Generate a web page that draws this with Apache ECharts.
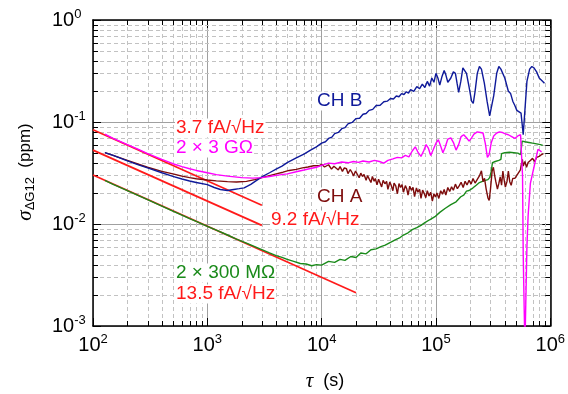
<!DOCTYPE html>
<html>
<head>
<meta charset="utf-8">
<script src="https://cdn.jsdelivr.net/npm/echarts@6/dist/echarts.min.js"></script>
<style>html,body{margin:0;padding:0;background:#fff}#c{width:568px;height:394px}</style>
</head>
<body>
<div id="c"></div>
<script>
// ---- tick labels ----
const xTickExp = ['2', '3', '4', '5', '6'];
const yTickExp = ['-3', '-2', '-1', '0'];

// ---- fit lines (white-noise slopes) ----
const fitHighTau = [100, 3000];
const fitHighSig = [0.084, 0.0153];
const fitMidTau = [100, 3000];
const fitMidSig = [0.053, 0.0097];
const fitLowTau = [100, 20000];
const fitLowSig = [0.0302, 0.00212];

// ---- 2 x 3 GOhm (magenta) ----
const tauM = [127,150,200,250,300,400,500,600,700,800,1000,1200,1500,2000,2500,3000,3500,4000,5000,6000,7000,8000,9000,10000,11500,13000,15000,17000,19000,21000,23000,26000,29000,32000,35000,38000,42000,46000,50000,54000,58000,62000,66000,70000,74000,78000,82000,86000,90000,95000,100000,105000,110000,115000,120000,127000,135000,143000,150000,158000,166000,175000,185000,195000,205000,215000,230000,245000,258000,270000,282000,292000,305000,320000,340000,360000,380000,400000,430000,460000,490000,520000,550000,565000,572000,580000,600000,612000,625000,640000,670000,720000,780000,840000];
const sigM = [0.076,0.069,0.060,0.054,0.049,0.043,0.039,0.0365,0.0348,0.0335,0.0318,0.0305,0.0295,0.0285,0.0282,0.0285,0.0292,0.030,0.031,0.0325,0.0338,0.035,0.036,0.0375,0.0395,0.039,0.0405,0.0398,0.041,0.0402,0.0415,0.0405,0.042,0.041,0.0395,0.042,0.0435,0.045,0.0445,0.047,0.0455,0.052,0.057,0.050,0.046,0.052,0.060,0.055,0.047,0.054,0.062,0.067,0.058,0.050,0.056,0.068,0.070,0.062,0.053,0.060,0.072,0.075,0.070,0.065,0.070,0.076,0.080,0.079,0.078,0.062,0.045,0.048,0.063,0.073,0.078,0.080,0.079,0.077,0.075,0.072,0.069,0.073,0.075,0.072,0.03,0.005,0.0006,0.0006,0.006,0.012,0.025,0.036,0.054,0.051];

// ---- CH B (navy) ----
const tauB = [127,150,200,250,300,400,500,600,700,800,1000,1150,1300,1500,1700,1900,2100,2400,2700,3000,3500,4000,4500,5000,6000,7000,8000,9000,10000,10800,11500,12300,13000,14000,15000,16000,17000,18500,20000,21500,23000,24500,26000,28000,30000,32500,35000,37500,40000,42500,45000,47500,50000,52500,55000,57500,60000,64000,68000,72000,76000,80000,84000,88000,92000,96000,100000,104000,108000,113000,118000,122000,127000,135000,142000,148000,153000,158000,165000,172000,178000,185000,195000,205000,212000,220000,230000,240000,250000,265000,280000,295000,305000,320000,340000,355000,370000,400000,430000,450000,470000,490000,510000,530000,555000,570000,580000,600000,625000,660000,690000,720000,760000,800000,860000,890000];
const sigB = [0.050,0.047,0.0415,0.038,0.0355,0.0318,0.0293,0.0276,0.0264,0.0255,0.0243,0.0228,0.0218,0.0213,0.0218,0.0222,0.0226,0.0245,0.0268,0.029,0.0318,0.0345,0.037,0.040,0.0445,0.0485,0.053,0.057,0.062,0.064,0.069,0.071,0.077,0.079,0.086,0.088,0.096,0.099,0.108,0.109,0.119,0.121,0.13,0.133,0.145,0.146,0.158,0.16,0.17,0.168,0.18,0.177,0.19,0.186,0.198,0.192,0.208,0.2,0.222,0.212,0.235,0.218,0.25,0.225,0.27,0.245,0.30,0.27,0.23,0.28,0.32,0.29,0.245,0.27,0.31,0.30,0.24,0.195,0.25,0.34,0.35,0.30,0.22,0.16,0.152,0.2,0.3,0.35,0.33,0.24,0.16,0.115,0.115,0.18,0.3,0.35,0.33,0.27,0.2,0.19,0.16,0.145,0.13,0.125,0.122,0.12,0.075,0.13,0.25,0.33,0.35,0.34,0.31,0.27,0.25,0.24];

// ---- CH A (brown) ----
const tauA = [127,150,200,250,300,400,500,600,700,800,1000,1200,1500,1800,2200,2600,3000,3500,4000,4600,5200,6000,6800,7600,8500,9500,10000,10600,11000,11500,12200,12800,13300,14000,14500,15200,15800,16500,17000,17800,18500,19000,19800,20500,21300,22000,22800,23500,24500,25200,26000,27000,27800,28800,29500,30500,31500,32500,33500,34500,35800,37000,38000,39500,40500,42000,43000,44500,46000,47500,49000,50500,52000,54000,55500,57000,59000,61000,63000,65000,67500,69500,72000,74000,76500,79000,81500,84000,87000,90000,93000,96000,99000,102000,106000,110000,114000,118000,122000,127000,132000,137000,142000,148000,154000,160000,166000,173000,180000,187000,195000,203000,211000,220000,230000,240000,250000,258000,266000,275000,285000,292000,300000,310000,318000,326000,334000,345000,355000,365000,375000,385000,395000,405000,418000,430000,442000,455000,470000,490000,510000,530000,548000,560000,570000,580000,600000,620000,640000,670000,700000,730000,760000,800000,840000,870000];
const sigA = [0.050,0.047,0.042,0.0385,0.036,0.0328,0.031,0.0295,0.0285,0.0278,0.027,0.0265,0.026,0.0258,0.0262,0.0272,0.0285,0.0298,0.031,0.0322,0.0335,0.0343,0.0355,0.0362,0.0372,0.0372,0.0385,0.0362,0.0378,0.0381,0.0345,0.0368,0.0352,0.0339,0.0366,0.0328,0.0355,0.0348,0.0312,0.0342,0.0318,0.0296,0.0331,0.0322,0.0284,0.0315,0.0292,0.0306,0.0268,0.0298,0.0285,0.0255,0.0292,0.0262,0.0279,0.0242,0.0275,0.0266,0.0231,0.0268,0.0248,0.0262,0.0219,0.0258,0.0241,0.0212,0.0252,0.0236,0.0198,0.0249,0.0228,0.0243,0.0205,0.0238,0.0222,0.0192,0.0235,0.0214,0.0229,0.0186,0.0226,0.0205,0.0218,0.0178,0.0215,0.0199,0.0181,0.0212,0.0188,0.0205,0.0168,0.0198,0.0184,0.0201,0.0178,0.0212,0.0196,0.0218,0.0192,0.0228,0.0208,0.0232,0.0214,0.0246,0.0222,0.0238,0.0256,0.0228,0.0262,0.0241,0.0268,0.0246,0.0279,0.0252,0.0274,0.0296,0.0332,0.026,0.028,0.022,0.018,0.017,0.022,0.033,0.036,0.03,0.026,0.022,0.025,0.029,0.024,0.033,0.027,0.023,0.026,0.033,0.026,0.024,0.028,0.028,0.03,0.031,0.034,0.039,0.043,0.037,0.041,0.036,0.04,0.042,0.044,0.041,0.045,0.046,0.048,0.049];

// ---- 2 x 300 MOhm (green) ----
const tauG = [127,150,200,250,300,400,500,600,700,800,1000,1200,1500,1800,2200,2600,3000,3500,4000,4500,5000,5700,6500,7300,8200,9000,10000,11500,13000,14500,16000,18000,20000,22000,24500,27000,30000,33000,36000,40000,44000,48000,52000,57000,62000,68000,74000,80000,88000,98000,108000,120000,135000,150000,165000,175000,185000,195000,210000,225000,240000,255000,270000,285000,295000,305000,312000,330000,355000,370000,375000,400000,440000,480000,520000,550000,565000,568000,600000,650000,700000,760000,820000,860000];
const sigG = [0.0268,0.0245,0.0212,0.019,0.0173,0.015,0.0134,0.0122,0.0113,0.0106,0.0095,0.0087,0.0078,0.0071,0.0065,0.006,0.0056,0.0052,0.0049,0.0047,0.0045,0.0043,0.0041,0.00405,0.0039,0.004,0.00395,0.0043,0.0042,0.0045,0.0044,0.0048,0.0047,0.0052,0.0051,0.0056,0.0057,0.006,0.0062,0.0066,0.007,0.0073,0.0078,0.0082,0.0088,0.0092,0.0097,0.0103,0.011,0.0118,0.013,0.0142,0.0155,0.0165,0.0185,0.0192,0.021,0.0213,0.0225,0.024,0.0255,0.0262,0.0268,0.0272,0.0285,0.033,0.04,0.041,0.042,0.043,0.049,0.05,0.0505,0.05,0.0495,0.048,0.047,0.065,0.064,0.063,0.062,0.061,0.06,0.059];

const xMinor = [];
for (let e = 2; e < 6; e++) for (let d = 2; d <= 9; d++) xMinor.push(d * Math.pow(10, e));
const yMinor = [];
for (let e = -3; e < 0; e++) for (let d = 2; d <= 9; d++) yMinor.push(d * Math.pow(10, e));

const FONT = '"Liberation Sans", Arial, sans-serif';
const SERIF = '"Liberation Serif", "Times New Roman", serif';
const zip = (a, b) => a.map((v, i) => [v, b[i]]);

const tickRich = {
  b: { fontSize: 20, fontFamily: FONT, color: '#000', lineHeight: 24 },
  s: { fontSize: 13, fontFamily: FONT, color: '#000', lineHeight: 13, verticalAlign: 'top' }
};
function expLabel(list, offset) {
  return function (v) {
    const e = Math.round(Math.log10(v));
    return '{b|10}{s|' + list[e - offset] + '}';
  };
}

function axisCommon() {
  return {
    type: 'log', logBase: 10,
    axisLine: { onZero: false, lineStyle: { color: '#000', width: 1.5 } },
    axisTick: { inside: true, length: 8, lineStyle: { color: '#000', width: 1 } }
  };
}

const chart = echarts.init(document.getElementById('c'), null, { renderer: 'canvas' });

function lineSeries(name, data, color, width, z) {
  return {
    name, type: 'line', data, showSymbol: false, symbol: 'none', clip: true, z: z,
    lineStyle: { color, width }, emphasis: { disabled: true }
  };
}

const annoFont = '19px ' + FONT;
function anno(text, x, y, color) {
  return { type: 'text', x: x, y: y, z: 100,
    style: { text: text, fill: color, font: annoFont, align: 'left', verticalAlign: 'middle', backgroundColor: '#fff', padding: [0, 1] } };
}

const option = {
  animation: false,
  backgroundColor: '#fff',
  grid: { left: 93, right: 15, top: 20, bottom: 68 },
  xAxis: [
    Object.assign(axisCommon(), {
      min: 100, max: 1e6, position: 'bottom',
      axisLabel: { margin: 7, formatter: expLabel(xTickExp, 2), rich: tickRich },
      splitLine: { show: true, lineStyle: { color: '#a0a0a0', width: 1 } }
    }),
    Object.assign(axisCommon(), {
      min: 100, max: 1e6, position: 'top',
      axisLabel: { show: false }, splitLine: { show: false }
    })
  ],
  yAxis: [
    Object.assign(axisCommon(), {
      min: 1e-3, max: 1, position: 'left',
      axisLabel: { margin: 41, align: 'left', formatter: expLabel(yTickExp, -3), rich: tickRich },
      splitLine: { show: true, lineStyle: { color: '#a0a0a0', width: 1 } }
    }),
    Object.assign(axisCommon(), {
      min: 1e-3, max: 1, position: 'right',
      axisLabel: { show: false }, splitLine: { show: false }
    })
  ],
  series: [
    {
      type: 'custom', z: 1, silent: true, clip: false,
      data: xMinor.map(v => [v, 0.1]),
      renderItem: function (params, api) {
        const cs = params.coordSys;
        const x = Math.round(api.coord([api.value(0), 0.1])[0]) + 0.5;
        const b = cs.y + cs.height;
        return { type: 'group', children: [
          { type: 'line', shape: { x1: x, y1: cs.y, x2: x, y2: b }, style: { stroke: '#c2c2c2', lineWidth: 1, lineDash: [4, 3] } },
          { type: 'line', shape: { x1: x, y1: b, x2: x, y2: b - 5 }, style: { stroke: '#000', lineWidth: 1 } },
          { type: 'line', shape: { x1: x, y1: cs.y, x2: x, y2: cs.y + 5 }, style: { stroke: '#000', lineWidth: 1 } }
        ]};
      }
    },
    {
      type: 'custom', z: 1, silent: true, clip: false,
      data: yMinor.map(v => [1000, v]),
      renderItem: function (params, api) {
        const cs = params.coordSys;
        const y = Math.round(api.coord([1000, api.value(1)])[1]) + 0.5;
        const r = cs.x + cs.width;
        return { type: 'group', children: [
          { type: 'line', shape: { x1: cs.x, y1: y, x2: r, y2: y }, style: { stroke: '#c2c2c2', lineWidth: 1, lineDash: [4, 3] } },
          { type: 'line', shape: { x1: cs.x, y1: y, x2: cs.x + 5, y2: y }, style: { stroke: '#000', lineWidth: 1 } },
          { type: 'line', shape: { x1: r, y1: y, x2: r - 5, y2: y }, style: { stroke: '#000', lineWidth: 1 } }
        ]};
      }
    },
    lineSeries('fitHigh', zip(fitHighTau, fitHighSig), '#ff1a1a', 1.7, 3),
    lineSeries('fitMid', zip(fitMidTau, fitMidSig), '#ff1a1a', 1.7, 3),
    lineSeries('fitLow', zip(fitLowTau, fitLowSig), '#ff1a1a', 1.7, 3),
    lineSeries('2x300MOhm', zip(tauG, sigG), '#1a8a1a', 1.4, 4),
    lineSeries('CH A', zip(tauA, sigA), '#7d0c0c', 1.4, 4),
    lineSeries('CH B', zip(tauB, sigB), '#0f1a9a', 1.4, 4),
    lineSeries('2x3GOhm', zip(tauM, sigM), '#ff00ff', 1.4, 4)
  ],
  graphic: [
    { type: 'text', x: 25, y: 172, rotation: Math.PI / 2, z: 100,
      style: { text: '{s|σ}{sub|ΔG12}{n|  (ppm)}', align: 'center', verticalAlign: 'middle',
        rich: {
          s: { fontSize: 21, fontFamily: SERIF, fontStyle: 'italic', fill: '#000', lineHeight: 24 },
          sub: { fontSize: 13, fontFamily: FONT, fill: '#000', lineHeight: 14, verticalAlign: 'bottom' },
          n: { fontSize: 17, fontFamily: FONT, fill: '#000', lineHeight: 24 }
        } } },
    { type: 'text', x: 325, y: 381, z: 100,
      style: { text: '{t|τ}{n|  (s)}', align: 'center', verticalAlign: 'middle',
        rich: {
          t: { fontSize: 21, fontFamily: SERIF, fontStyle: 'italic', fill: '#000' },
          n: { fontSize: 18, fontFamily: FONT, fill: '#000' }
        } } },
    anno('3.7 fA/√Hz', 175, 128, '#ff1a1a'),
    anno('2 × 3 GΩ', 175, 148, '#ff00ff'),
    anno('9.2 fA/√Hz', 270, 220, '#ff1a1a'),
    anno('CH B', 316, 101, '#0f1a9a'),
    anno('CH A', 316, 197, '#7d0c0c'),
    anno('2 × 300 MΩ', 175, 273, '#1a8a1a'),
    anno('13.5 fA/√Hz', 175, 294, '#ff1a1a')
  ]
};
chart.setOption(option);
</script>
</body>
</html>
